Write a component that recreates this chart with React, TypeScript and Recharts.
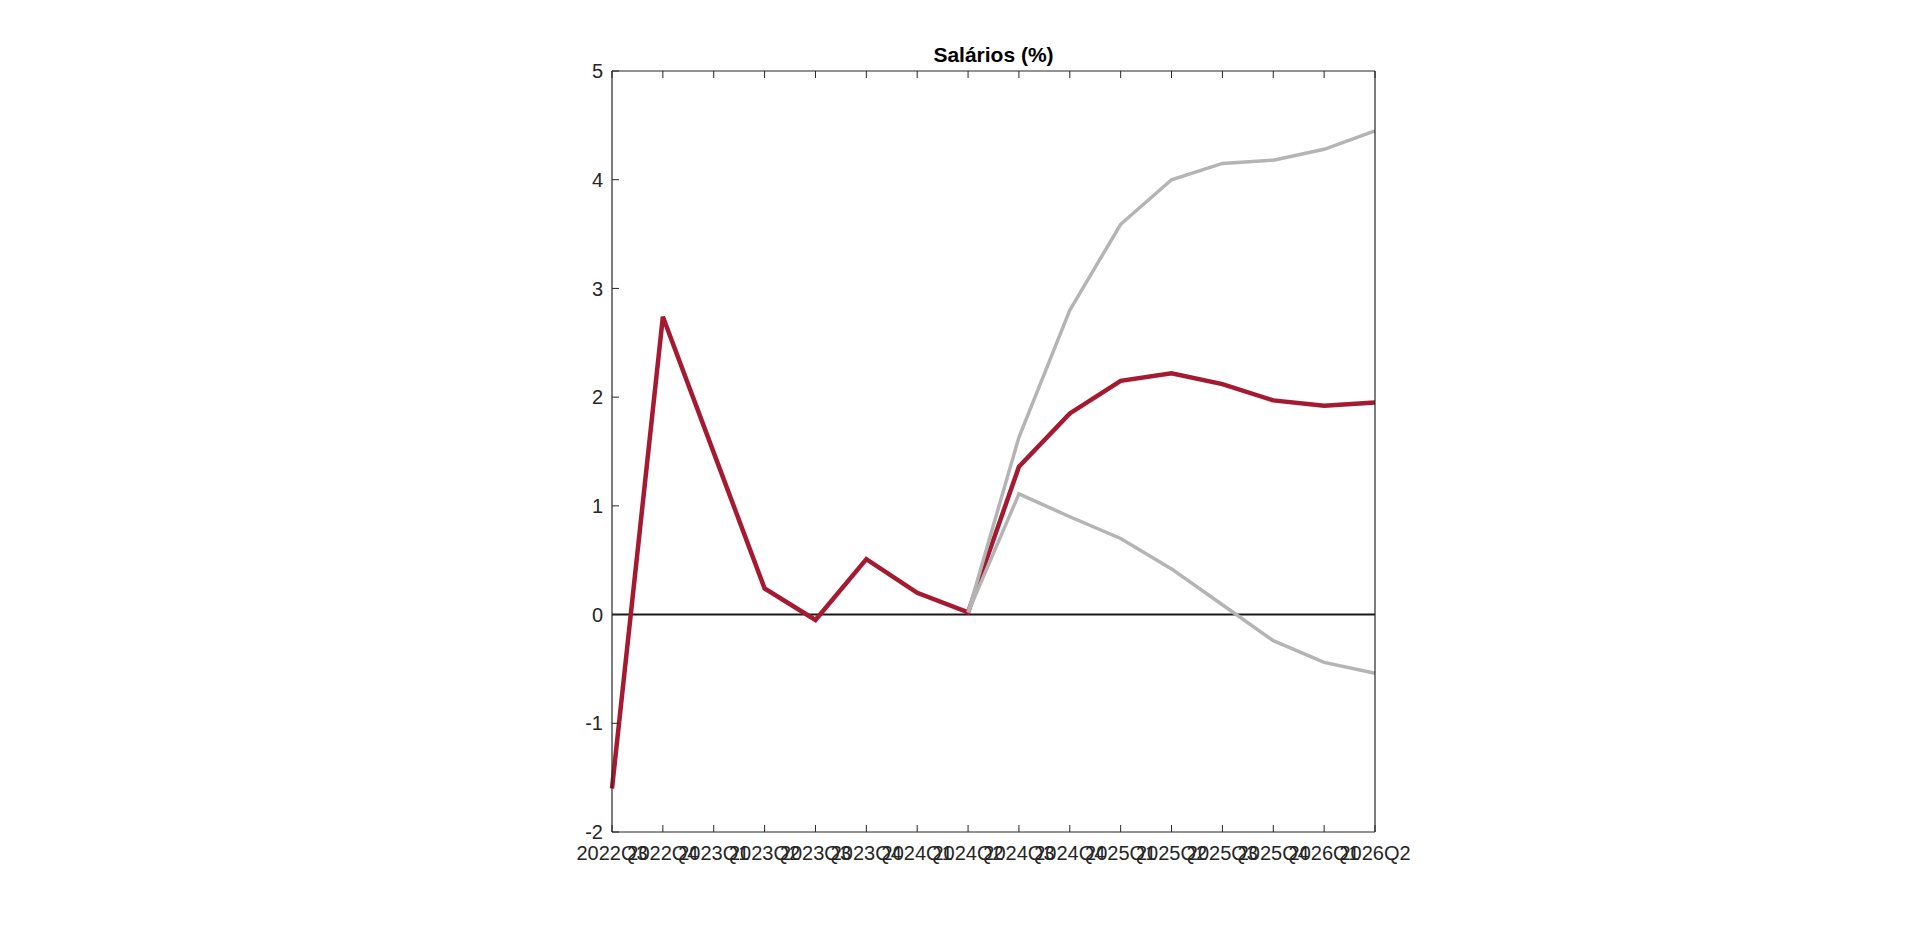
import { LineChart, Line, XAxis, YAxis, ReferenceLine } from 'recharts';

const quarters = [
  '2022Q3', '2022Q4', '2023Q1', '2023Q2', '2023Q3', '2023Q4', '2024Q1', '2024Q2',
  '2024Q3', '2024Q4', '2025Q1', '2025Q2', '2025Q3', '2025Q4', '2026Q1', '2026Q2',
];

// central projection and the band around it (band starts at 2024Q2)
const central = [-1.6, 2.74, 1.49, 0.24, -0.05, 0.51, 0.2, 0.02, 1.36, 1.85, 2.15, 2.22, 2.12, 1.97, 1.92, 1.95];
const upper = [null, null, null, null, null, null, null, 0.02, 1.63, 2.8, 3.59, 4.0, 4.15, 4.18, 4.28, 4.45];
const lower = [null, null, null, null, null, null, null, 0.02, 1.11, 0.9, 0.7, 0.42, 0.09, -0.24, -0.44, -0.54];

const yTicks = [-2, -1, 0, 1, 2, 3, 4, 5];

const FONT = '"Liberation Sans", Arial, Helvetica, sans-serif';
const AXIS = '#262626';
const RED = '#A51931';
const GRAY = '#B4B4B4';

const chartData = quarters.map((q, i) => ({
  q,
  central: central[i],
  upper: upper[i],
  lower: lower[i],
}));

export default function App() {
  const tickStyle = { fontSize: 20, fill: AXIS, fontFamily: FONT };
  return (
    <div style={{ position: 'relative', width: 1904, height: 920, fontFamily: FONT }}>
      <div
        style={{
          position: 'absolute',
          left: 604,
          width: 763,
          top: 36,
          textAlign: 'center',
          fontSize: 21,
          lineHeight: '21px',
          fontWeight: 'bold',
          color: '#000',
        }}
      >
        Salários (%)
      </div>
      <LineChart
        width={1904}
        height={920}
        data={chartData}
        margin={{ top: 62, right: 536, bottom: 56, left: 544 }}
      >
        <XAxis
          dataKey="q"
          interval={0}
          height={40}
          tickSize={-7}
          tickMargin={21}
          tick={tickStyle}
          stroke={AXIS}
          axisLine={{ stroke: AXIS, strokeWidth: 1.2 }}
          tickLine={{ stroke: AXIS }}
        />
        <XAxis
          xAxisId="top"
          dataKey="q"
          orientation="top"
          interval={0}
          height={1}
          tickSize={-7}
          tickFormatter={() => ''}
          stroke={AXIS}
          axisLine={{ stroke: AXIS, strokeWidth: 1.2 }}
        />
        <YAxis
          type="number"
          domain={[-2, 5]}
          ticks={yTicks}
          width={60}
          tickSize={-7}
          tickMargin={16}
          tick={tickStyle}
          stroke={AXIS}
          axisLine={{ stroke: AXIS, strokeWidth: 1.2 }}
        />
        <YAxis
          yAxisId="right"
          orientation="right"
          type="number"
          domain={[-2, 5]}
          ticks={yTicks}
          width={1}
          tickSize={-7}
          tickFormatter={() => ''}
          stroke={AXIS}
          axisLine={{ stroke: AXIS, strokeWidth: 1.2 }}
        />
        <ReferenceLine y={0} stroke="#1a1a1a" strokeWidth={2} />
        <Line
          dataKey="central"
          stroke={RED}
          strokeWidth={4.5}
          dot={false}
          activeDot={false}
          isAnimationActive={false}
        />
        <Line
          dataKey="upper"
          stroke={GRAY}
          strokeWidth={3.5}
          dot={false}
          activeDot={false}
          isAnimationActive={false}
        />
        <Line
          dataKey="lower"
          stroke={GRAY}
          strokeWidth={3.5}
          dot={false}
          activeDot={false}
          isAnimationActive={false}
        />
      </LineChart>
    </div>
  );
}
